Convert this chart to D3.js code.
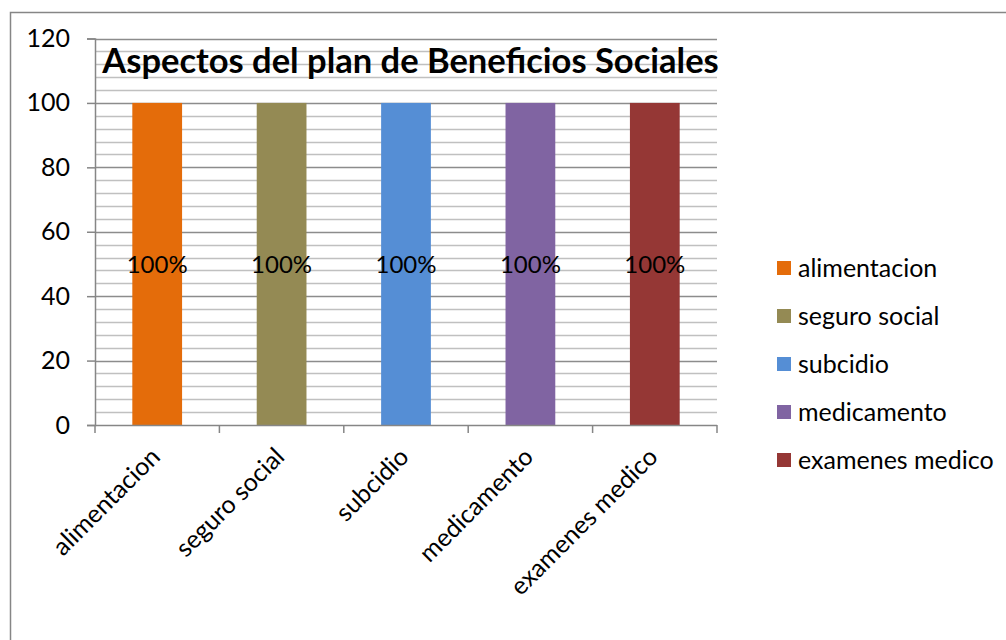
<!DOCTYPE html>
<html>
<head>
<meta charset="utf-8">
<script src="https://cdn.jsdelivr.net/npm/d3@7"></script>
<style>
  html, body { margin: 0; padding: 0; background: #fff; }
  svg { display: block; }
  text { font-family: Lato, "Open Sans", sans-serif; fill: #000; }
</style>
</head>
<body>
<script>
const categories = ["alimentacion", "seguro social", "subcidio", "medicamento", "examenes medico"];
const values = [100, 100, 100, 100, 100];
const valueLabels = ["100%", "100%", "100%", "100%", "100%"];
const colors = ["#E46C0A", "#948A54", "#558ED5", "#8064A2", "#953735"];
const yTicks = [0, 20, 40, 60, 80, 100, 120];
const title = "Aspectos del plan de Beneficios Sociales";

const W = 1006, H = 640;
const svg = d3.select("body").append("svg").attr("width", W).attr("height", H);

// outer frame
svg.append("rect").attr("x", 10.5).attr("y", 12.5).attr("width", 1100).attr("height", 700)
  .attr("fill", "none").attr("stroke", "#868686").attr("stroke-width", 1.5);

const plot = { left: 95, right: 717, top: 38.5, bottom: 425 };

const x = d3.scaleBand().domain(categories).range([plot.left, plot.right])
  .paddingInner(0.6).paddingOuter(0.3);
const y = d3.scaleLinear().domain([0, 120]).range([plot.bottom, plot.top]);

// minor gridlines
const minor = d3.range(0, 121, 4).filter(v => v % 20 !== 0);
svg.append("g").selectAll("line").data(minor).join("line")
  .attr("x1", plot.left).attr("x2", plot.right)
  .attr("y1", d => Math.round(y(d)) + 0.5).attr("y2", d => Math.round(y(d)) + 0.5)
  .attr("stroke", "#c0c0c0").attr("stroke-width", 1.5);
// major gridlines
svg.append("g").selectAll("line").data(yTicks.filter(v => v > 0)).join("line")
  .attr("x1", plot.left).attr("x2", plot.right)
  .attr("y1", d => Math.round(y(d)) + 0.5).attr("y2", d => Math.round(y(d)) + 0.5)
  .attr("stroke", "#8c8c8c").attr("stroke-width", 1.5);

// bars
svg.append("g").selectAll("rect").data(values).join("rect")
  .attr("x", (d, i) => x(categories[i]))
  .attr("width", x.bandwidth())
  .attr("y", d => y(d))
  .attr("height", d => y(0) - y(d))
  .attr("fill", (d, i) => colors[i]);

// y axis
const yAxis = d3.axisLeft(y).tickValues(yTicks).tickSize(8).tickPadding(17).tickFormat(d3.format("d"));
const gy = svg.append("g").attr("transform", `translate(${plot.left},0)`).call(yAxis);
gy.select(".domain").attr("stroke", "#868686").attr("stroke-width", 1.5);
gy.selectAll(".tick line").attr("stroke", "#868686").attr("stroke-width", 1.5);
gy.selectAll(".tick text").style("font-size", "25px").attr("fill", "#000");

// x axis
const gx = svg.append("g").attr("transform", `translate(0,${plot.bottom})`);
gx.append("line").attr("x1", plot.left).attr("x2", plot.right).attr("y1", 0.5).attr("y2", 0.5)
  .attr("stroke", "#868686").attr("stroke-width", 1.5);
const step = x.step();
const boundaries = d3.range(categories.length + 1).map(i => plot.left + i * step);
gx.selectAll(".xt").data(boundaries).join("line").attr("class", "xt")
  .attr("x1", d => d).attr("x2", d => d).attr("y1", 0).attr("y2", 8)
  .attr("stroke", "#868686").attr("stroke-width", 1.5);
gx.selectAll(".xl").data(categories).join("text").attr("class", "xl")
  .attr("transform", d => `translate(${x(d) + x.bandwidth() / 2 - 8},${21}) rotate(-45)`)
  .attr("text-anchor", "end")
  .attr("dy", "0.7em")
  .style("font-size", "25px")
  .text(d => d);

// data labels
svg.append("g").selectAll("text").data(values).join("text")
  .attr("x", (d, i) => x(categories[i]) + x.bandwidth() / 2)
  .attr("y", d => y(d / 2))
  .attr("dy", "0.38em")
  .attr("text-anchor", "middle")
  .style("font-size", "24px")
  .text((d, i) => valueLabels[i]);

// title
svg.append("text").attr("x", (103 + 718) / 2).attr("y", 73)
  .attr("text-anchor", "middle")
  .style("font-size", "34.5px").style("font-weight", "bold")
  .text(title);

// legend
const lg = svg.append("g").attr("transform", "translate(777,268)");
const rows = lg.selectAll("g").data(categories).join("g")
  .attr("transform", (d, i) => `translate(0,${i * 48})`);
rows.append("rect").attr("x", 0).attr("y", -7).attr("width", 14).attr("height", 14)
  .attr("fill", (d, i) => colors[i]);
rows.append("text").attr("x", 21).attr("dy", "0.36em").style("font-size", "25px").text(d => d);
</script>
</body>
</html>
